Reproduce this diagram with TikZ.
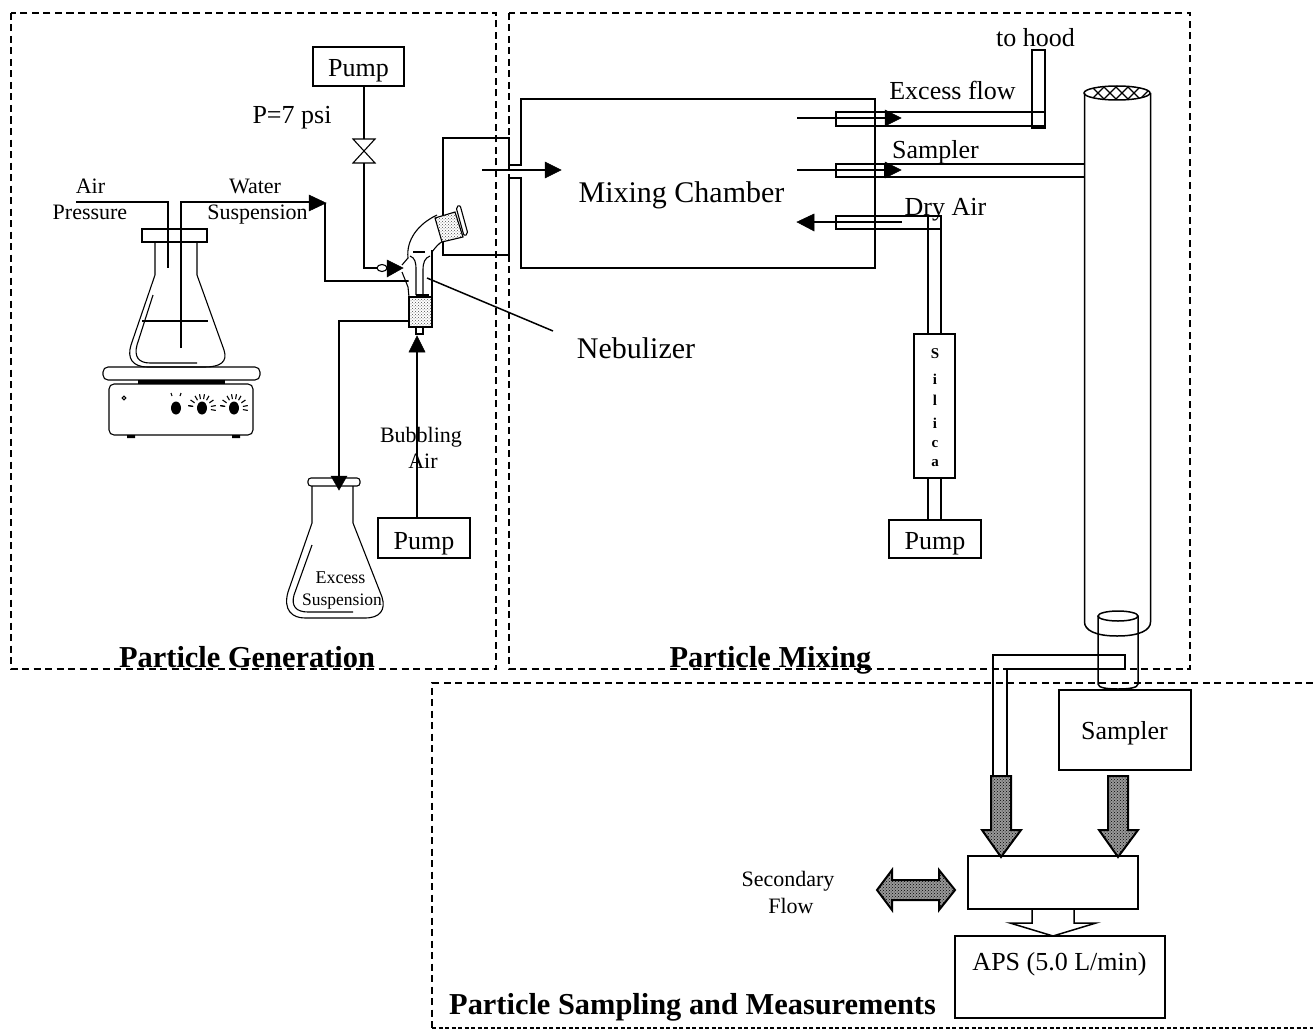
\documentclass[tikz,border=0pt]{standalone}
\usepackage{fontspec}
\setmainfont{Liberation Serif}
\usetikzlibrary{patterns}
\newcommand\fsz[1]{\fontsize{#1}{#1}\selectfont}
\tikzset{
 dashbox/.style={line width=1.5pt,dash pattern=on 7pt off 4.5pt},
 dashfine/.style={line width=1.5pt,dash pattern=on 4pt off 2.5pt},
 boxn/.style={draw,inner sep=0pt,line width=1.5pt},
 txt/.style={inner sep=0pt,anchor=base,text depth=0pt},
 stip/.style={preaction={fill=black!40},pattern=crosshatch dots,pattern color=black},
 stiplite/.style={preaction={fill=white},pattern=crosshatch dots,pattern color=black!70},
 head/.style={fill=black,draw=black,line width=.5pt},
 thin1/.style={line width=1.1pt},
 thick1/.style={line width=2pt},
}
\begin{document}
\begin{tikzpicture}[x=1pt,y=-1pt,line width=1.5pt]
\useasboundingbox (0,0) rectangle (1313,1030);
\fill[white] (0,0) rectangle (1313,1030);
% dashed regions
\draw[dashbox] (11,13) rectangle (496,669);
\draw[dashbox] (509,13) rectangle (1190,669);
\draw[dashbox] (1313,683) -- (432,683) -- (432,1028);
\draw[dashfine] (432,1028) -- (1313,1028);
% ---------- boxes
\node[boxn,minimum width=91pt,minimum height=39pt] (pumpA) at (358.5,66.5) {};
\node[boxn,minimum width=92pt,minimum height=40pt] (pumpB) at (424,538) {};
\node[boxn,minimum width=92pt,minimum height=38pt] (pumpC) at (935,539) {};
\node[boxn,minimum width=41pt,minimum height=144pt] (silica) at (934.5,406) {};
\node[boxn,minimum width=132pt,minimum height=80pt] (samplerbox) at (1125,730) {};
\node[boxn,minimum width=170pt,minimum height=53pt] (mix) at (1053,882.5) {};
\node[boxn,minimum width=210pt,minimum height=82pt] (aps) at (1060,977) {};
% ---------- left flask on the hot plate
\draw[thin1] (155,242) -- (155,275) -- (131,345) .. controls (127,358) and (132,367) .. (148,367)
  -- (205,367) .. controls (220,367) and (228,362) .. (224,350) -- (197,275) -- (197,242);
\draw[thin1] (153,295) -- (137,345) .. controls (134,356) and (138,363) .. (150,363) -- (197,363);
\draw[thin1] (142,321) -- (208,321);
\node[boxn,minimum width=65pt,minimum height=13pt] (stopper) at (174.5,235.5) {};
\coordinate (airend) at (76,202);
\coordinate (airin) at (168,268);
\draw (airend) -- (168,202) -- (airin);
\coordinate (waterin) at (181,348);
\draw (waterin) -- (181,202) -- (310,202);
\fill[head] (309,195) -- (326,203) -- (309,211) -- cycle;
% hot plate
\draw[thin1,rounded corners=5pt] (103,367) rectangle (260,380);
\fill (138,380) rectangle (225,384);
\draw[thin1,rounded corners=5pt] (109,384) rectangle (253,435);
\fill (127,435) rectangle (135,438) (232,435) rectangle (240,438);
\draw[thin1] (124,398) circle (1.8);
\foreach \kx in {176,202,234}{\fill (\kx,408) ellipse (5 and 6.5);}
\draw[thin1] (172,396) -- (171,393) (180,396) -- (181,393);
\foreach \kx in {202,234}{
 \foreach \a in {-170,-145,-120,-100,-80,-60,-35,-10,10,190}{
  \draw[thin1] (\kx,408) ++(\a:9) -- ++(\a:5);}}
% ---------- water line into nebulizer
\coordinate (nebwater) at (417,281);
\draw (325,203) -- (325,281) -- (nebwater);
% pump A line with valve
\coordinate (valve) at (364,151);
\draw (pumpA.south -| valve) -- (364,139);
\draw (364,163) -- (364,268) -- (387,268);
\draw[thin1] (353,139) -- (375,139) -- (353,163) -- (375,163) -- cycle;
\draw[thin1,fill=white] (382,268) ellipse (5 and 3.5);
\fill[head] (387,260) -- (403,268) -- (387,277) -- cycle;
% outlet + chamber
\draw (443,255) -- (443,138) -- (509,138) -- (509,165) -- (521,165) -- (521,99) -- (875,99) -- (875,268)
 -- (521,268) -- (521,178) -- (509,178) -- (509,255) -- cycle;
\draw (482,170) -- (546,170);
\fill[head] (545,162) -- (561,170) -- (545,178) -- cycle;
% nebulizer glass
\fill[white] (408,258) .. controls (406,240) and (418,224) .. (437,215) -- (445,240) .. controls (438,244) and (435,248) .. (432,252) -- (432,297) -- (409,297) -- cycle;
\draw[thin1] (402,265) -- (408,258) .. controls (406,240) and (418,224) .. (437,215);
\draw[thin1] (432,252) .. controls (435,248) and (438,244) .. (443,241);
\draw[thin1] (432,250) -- (432,297);
\draw[thin1] (402,272) -- (408,287) -- (409,297);
\draw[thin1] (413,252) -- (425,252);
\draw[thin1] (410,256) .. controls (415,258) and (416,262) .. (416,270) -- (416,295);
\draw[thin1] (430,256) .. controls (425,258) and (423,262) .. (423,270) -- (423,295);
\draw[thin1] (416,295) -- (429,295);
\draw[thin1,stiplite] (435,218) -- (455,212) -- (463,237) -- (442,242) -- cycle;
\draw[thin1,fill=white,rounded corners=2pt] (456,207) -- (460,205) -- (468,234) -- (464,236) -- cycle;
\draw[thin1,stiplite] (409,297) rectangle (432,327);
\draw[thin1] (416,327) rectangle (423,334);
% pump B line
\fill[head] (417,336) -- (409,352) -- (425,352) -- cycle;
\draw (pumpB.north -| 417,0) -- (417,352);
% excess line to receiving flask
\coordinate (excessin) at (409,321);
\draw (excessin) -- (339,321) -- (339,476);
\fill[head] (331,476) -- (347,476) -- (339,490) -- cycle;
% receiving flask
\draw[thin1,rounded corners=3pt] (308,478) rectangle (360,486);
\draw[thin1] (312,486) -- (312,523) -- (288,592) .. controls (283,610) and (292,618) .. (305,618)
 -- (365,618) .. controls (380,618) and (386,610) .. (382,597) -- (353,523) -- (353,486);
\draw[thin1] (312,545) -- (294,595) .. controls (291,606) and (296,612) .. (308,612) -- (353,612);
% nebulizer leader
\coordinate (nebul) at (553,331);
\draw (427,278) -- (nebul);
% excess tube
\draw (885,112) -- (836,112) -- (836,126) -- (885,126);
\draw (885,112) -- (1045,112);
\draw (885,126) -- (1045,126);
\draw (1032,50) rectangle (1045,128);
\draw (797,118) -- (885,118);
\fill[head] (885,110) -- (901,118) -- (885,126) -- cycle;
% sampler tube
\draw (1085,164) -- (836,164) -- (836,177) -- (1085,177);
\draw (885,164) -- (885,177);
\draw (797,170) -- (885,170);
\fill[head] (885,162) -- (901,170) -- (885,178) -- cycle;
% dry air tube
\draw (silica.north -| 928,0) -- (928,216) -- (836,216) -- (836,229) -- (928,229);
\draw (silica.north -| 941,0) -- (941,216) -- (928,216);
\draw (941,229) -- (928,229);
\draw (814,222) -- (902,222);
\fill[head] (814,214) -- (797,222) -- (814,231) -- cycle;
\draw (pumpC.north -| 928,0) -- (silica.south -| 928,0);
\draw (pumpC.north -| 941,0) -- (silica.south -| 941,0);
% column
\draw (1084.5,93) -- (1084.5,622) .. controls (1084.5,630) and (1095,636) .. (1117,636)
  .. controls (1140,636) and (1150.5,630) .. (1150.5,622) -- (1150.5,93);
\begin{scope}
\clip (1117,93) ellipse (33 and 7);
\draw[thin1] (1090,85) -- (1106,101) (1102,85) -- (1118,101) (1114,85) -- (1130,101) (1126,85) -- (1142,101);
\draw[thin1] (1106,85) -- (1090,101) (1118,85) -- (1102,101) (1130,85) -- (1114,101) (1142,85) -- (1126,101) (1154,85) -- (1138,101);
\end{scope}
\draw (1117,93) ellipse (33 and 7);
% inner cylinder
\draw (1098,616) -- (1098,684) .. controls (1098,688) and (1108,689) .. (1118,689) .. controls (1128,689) and (1138,688) .. (1138,684) -- (1138,616);
\draw[fill=white] (1118,616) ellipse (20 and 5);
% outlet pipe
\draw (1007,775) -- (1007,669) -- (1125,669) -- (1125,655) -- (993,655) -- (993,775);
% fat arrows
\draw[thick1,stip] (991,776) -- (1011,776) -- (1011,830) -- (1021,830) -- (1001,857) -- (982,830) -- (991,830) -- cycle;
\draw[thick1,stip] (1108,776) -- (1128,776) -- (1128,830) -- (1138,830) -- (1118,857) -- (1099,830) -- (1108,830) -- cycle;
\draw[thick1,stip] (877,890) -- (892,870) -- (892,880) -- (939,880) -- (939,870) -- (955,890) -- (939,910) -- (939,900) -- (892,900) -- (892,910) -- cycle;
% outline arrow between boxes
\draw (1032,909) -- (1032,923) -- (1010,923) -- (1053,936) -- (1096,923) -- (1074,923) -- (1074,909);
% ---------- labels
\node[txt,font=\fsz{26}] (l1) at (358.5,77) {Pump};
\node[txt,font=\fsz{26}] (l2) at (424,549) {Pump};
\node[txt,font=\fsz{26}] (l3) at (935,549) {Pump};
\node[txt,font=\fsz{26}] (l4) at (292,124) {P=7 psi};
\node[txt,font=\fsz{22}] (l5) at (90.5,193) {Air};
\node[txt,font=\fsz{22}] (l6) at (90,219) {Pressure};
\node[txt,font=\fsz{22}] (l7) at (255,193) {Water};
\node[txt,font=\fsz{22}] (l8) at (257.5,219) {Suspension};
\node[txt,font=\fsz{22}] (l9) at (421,442) {Bubbling};
\node[txt,font=\fsz{22}] (l10) at (423,468) {Air};
\node[txt,font=\fsz{18}] (l11) at (340.5,583) {Excess};
\node[txt,font=\fsz{17.5}] (l12) at (342,605) {Suspension};
\node[txt,font=\fsz{30}] (l13) at (681.5,202) {Mixing Chamber};
\node[txt,font=\fsz{30}] (l14) at (636,358) {Nebulizer};
\node[txt,font=\fsz{26}] (l15) at (1035.5,47) {to hood};
\node[txt,font=\fsz{26}] (l16) at (952.5,100) {Excess flow};
\node[txt,font=\fsz{26}] (l17) at (935.5,158) {Sampler};
\node[txt,font=\fsz{26}] (l18) at (945.5,215) {Dry Air};
\foreach \c/\yy/\nm in {S/358/a,i/384/b,l/405/c,i/428/d,c/447/e,a/466/f}
  {\node[txt,font=\fsz{15}\bfseries] (sil\nm) at (935,\yy) {\c};}
\node[txt,font=\fsz{26}] (l19) at (1124.5,739) {Sampler};
\node[txt,font=\fsz{22}] (l20) at (788,886) {Secondary};
\node[txt,font=\fsz{22}] (l21) at (791,913) {Flow};
\node[txt,font=\fsz{26}] (l22) at (1059.5,970) {APS (5.0 L/min)};
\node[txt,font=\fsz{30.4}\bfseries] (l23) at (247,667) {Particle Generation};
\node[txt,font=\fsz{30.4}\bfseries] (l24) at (770.5,667) {Particle Mixing};
\node[txt,font=\fsz{30.4}\bfseries] (l25) at (692.5,1014) {Particle Sampling and Measurements};
\end{tikzpicture}
\end{document}
